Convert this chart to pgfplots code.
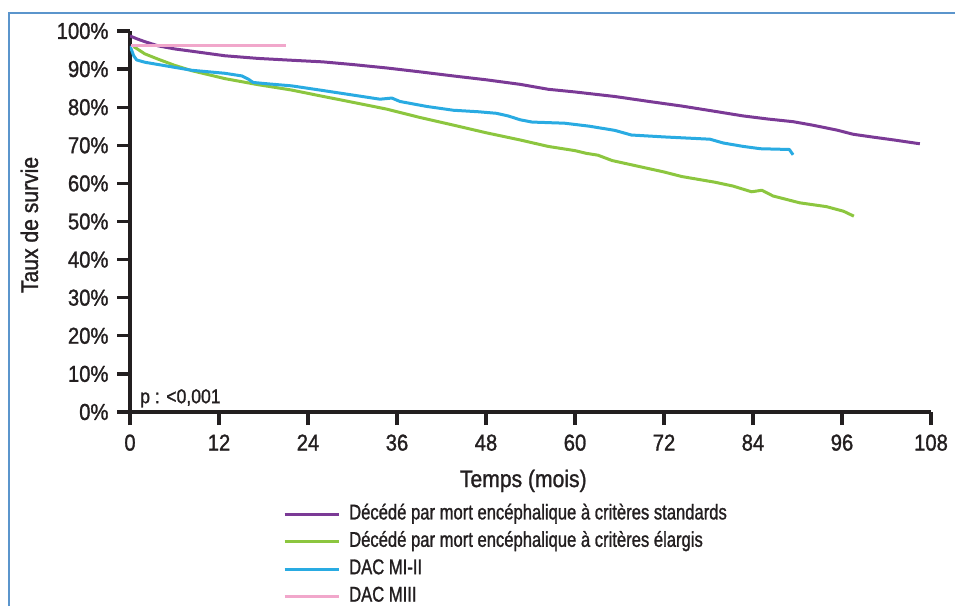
\documentclass[border=0pt]{standalone}
\usepackage{fontspec}
\setmainfont{Liberation Sans}[FakeStretch=0.88, FakeBold=1.2]
\newfontfamily\legfont{Liberation Sans}[FakeStretch=0.78, FakeBold=1.2]
\usepackage{pgfplots}
\pgfplotsset{compat=1.18}
\definecolor{cpurple}{HTML}{7B3A96}
\definecolor{cgreen}{HTML}{8CC63F}
\definecolor{cblue}{HTML}{29ABE2}
\definecolor{cpink}{HTML}{F1A7CB}
\definecolor{frameblue}{HTML}{5B95CC}
\definecolor{axblack}{HTML}{231F20}
\begin{document}
\begin{tikzpicture}
\useasboundingbox (0,0) rectangle (955pt,606pt);
\draw[frameblue, line width=2pt] (9pt,0pt) -- (9pt,593pt) -- (955pt,593pt);
\begin{axis}[
  at={(130pt,194pt)}, anchor=south west,
  scale only axis, width=801pt, height=381pt,
  xmin=0, xmax=108, ymin=0, ymax=100,
  axis x line=bottom, axis y line=left,
  axis line style={-, line width=3.5pt, axblack},
  xtick={0,12,...,108}, ytick={0,10,...,100},
  tick align=outside, major tick length=13pt,
  every tick/.style={axblack, line width=3.3pt},
  /pgf/number format/assume math mode=true,
  yticklabel={\pgfmathprintnumber{\tick}\%},
  tick label style={font=\fontsize{23}{27}\selectfont, text=axblack},
  yticklabel style={xshift=-5pt},
  xticklabel style={yshift=-6pt},
  xlabel={Temps (mois)},
  ylabel={Taux de survie},
  xlabel style={at={(axis description cs:0.491,-0.197)}, anchor=base, font=\fontsize{24}{28}\selectfont, text=axblack},
  ylabel style={at={(axis description cs:-0.1149,0.491)}, anchor=base, font=\fontsize{24}{28}\selectfont, text=axblack},
  legend style={at={(axis description cs:0.191,-0.242)}, anchor=north west, draw=none, fill=none, inner sep=0pt, row sep=7.4pt,
    font=\legfont\fontsize{21.3}{25}\selectfont, text=axblack, nodes={inner sep=0pt, text height=15pt, text depth=5pt}},
  legend cell align=left,
  legend image code/.code={\draw[#1, line width=3pt] (0pt,0pt) -- (54pt,0pt); \path (63pt,0pt);},
  line join=round,
]
\addplot[cpurple, line width=3pt] coordinates {
(0,98.7) (1,97.9) (2,97.2) (3.8,96.1) (6,95.3) (8.3,94.7) (12.8,93.5) (17.3,92.8) (22,92.3) (26,91.9) (30,91.2) (34.6,90.3) (39,89.3) (43.6,88.2) (48,87.2) (52.6,86.0) (56.4,84.7) (60,84.0) (65.4,82.8) (70,81.5) (74.4,80.3) (78.9,78.9) (82.7,77.7) (86,76.9) (89.4,76.2) (92,75.3) (95.3,74.0) (97.5,72.9) (100,72.2) (103,71.4) (106.5,70.4)
};
\addlegendentry{Décédé par mort encéphalique à critères standards}
\addplot[cgreen, line width=3pt] coordinates {
(0.5,95.9) (2,94.0) (3.8,92.6) (6,91.0) (8.3,89.6) (12.8,87.5) (17.3,85.9) (21.8,84.5) (25.6,83.0) (30,81.3) (34.6,79.5) (39.1,77.3) (43.6,75.3) (48,73.3) (52.6,71.4) (56.4,69.7) (60,68.6) (61.5,67.9) (63.1,67.4) (65,66.0) (69.9,63.9) (72,63.0) (74.4,61.8) (78.9,60.3) (81.3,59.3) (83.8,57.8) (85.2,58.2) (86.7,56.7) (90.3,54.9) (93.9,53.9) (96.2,52.7) (97.6,51.4)
};
\addlegendentry{Décédé par mort encéphalique à critères élargis}
\addplot[cblue, line width=3pt] coordinates {
(0,96.1) (0.5,93.5) (0.9,92.4) (2,91.8) (5,90.8) (8.3,89.7) (12.8,88.9) (15.1,88.2) (16,87.3) (16.6,86.5) (18.2,86.2) (21.8,85.6) (25.6,84.5) (30,83.2) (33.7,82.1) (35.3,82.4) (36.4,81.5) (40,80.2) (43.6,79.2) (47,78.8) (49.4,78.4) (51,77.7) (52.6,76.7) (54.2,76.1) (58.6,75.8) (62,75.0) (65.4,73.9) (67.6,72.7) (72,72.2) (78.2,71.6) (80,70.6) (82.7,69.7) (85,69.1) (88.9,68.9) (89.4,67.5)
};
\addlegendentry{DAC MI-II}
\addplot[cpink, line width=3pt] coordinates {
(0.2,96.1) (21,96.1)
};
\addlegendentry{DAC MIII}
\node[anchor=base west, font=\fontsize{20}{24}\selectfont, text=axblack, inner sep=0pt] at (axis cs:1.35,2.3) {p : <0,001};
\end{axis}
\end{tikzpicture}
\end{document}
